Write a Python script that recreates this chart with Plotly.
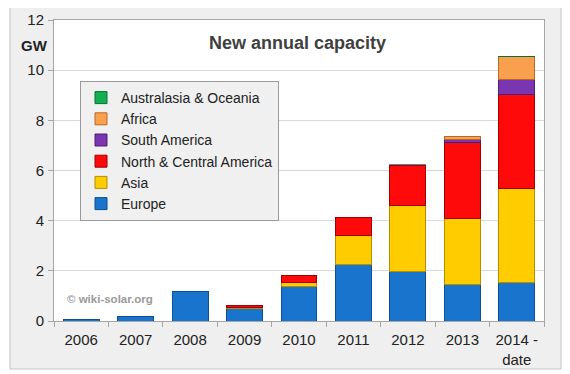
import plotly.graph_objects as go

years = ["2006", "2007", "2008", "2009", "2010", "2011", "2012", "2013", "2014 -<br>date"]
europe = [0.05, 0.18, 1.16, 0.50, 1.38, 2.26, 1.96, 1.45, 1.53]
asia = [None, None, None, 0.03, 0.15, 1.14, 2.64, 2.63, 3.77]
north_central_america = [None, None, None, 0.08, 0.29, 0.73, 1.60, 3.04, 3.74]
south_america = [None, None, None, None, None, None, 0.02, 0.13, 0.60]
africa = [None, None, None, None, None, None, 0.01, 0.10, 0.90]
australasia = [None, None, None, None, None, None, None, None, 0.02]

series = [
    ("Europe", europe, "#1874cd", "#0d4f8f"),
    ("Asia", asia, "#ffcc00", "#b38f00"),
    ("North & Central America", north_central_america, "#ff0a0a", "#a00000"),
    ("South America", south_america, "#7a35b0", "#4d1f70"),
    ("Africa", africa, "#f9a04f", "#b86a25"),
    ("Australasia & Oceania", australasia, "#12b050", "#0a7035"),
]

fig = go.Figure()
for name, vals, col, edge in series:
    fig.add_trace(go.Bar(x=years, y=vals, name=name, marker=dict(color=col, line=dict(color=edge, width=1))))

# page body has an 8px margin; design coordinates are window pixels
O = 8
W, H = 570 - O, 374 - O
L, R, T, B = 54 - O, 26, 20 - O, 53
pw, ph = W - L - R, H - T - B

def px(x):
    return (x - O - L) / pw

def py(y):
    return (H - B - (y - O)) / ph

fig.update_layout(
    width=W, height=H,
    margin=dict(l=L, r=R, t=T, b=B, autoexpand=False),
    barmode="stack", bargap=0.34,
    paper_bgcolor="white", plot_bgcolor="white",
    font=dict(family="Liberation Sans, Arial, sans-serif", color="#222222"),
    showlegend=True,
    legend=dict(
        x=px(80), y=py(81), xanchor="left", yanchor="top",
        bgcolor="#f0f0f0", bordercolor="#9a9a9a", borderwidth=1,
        traceorder="reversed", font=dict(size=14, color="#222222"),
        itemwidth=30, tracegroupgap=0,
    ),
    xaxis=dict(
        showline=True, linecolor="#a6a6a6", mirror=True,
        ticks="outside", tickson="boundaries", ticklen=5, tickcolor="#a6a6a6",
        tickfont=dict(size=15, color="#222222"), showgrid=False, ticklabelstandoff=5,
    ),
    yaxis=dict(
        range=[0, 12], dtick=2, showline=True, linecolor="#a6a6a6", mirror=True,
        ticks="outside", ticklen=5, tickcolor="#a6a6a6",
        gridcolor="#d9d9d9", gridwidth=1, ticklabelstandoff=1,
        tickfont=dict(size=15, color="#222222"), zeroline=False,
    ),
    shapes=[
        dict(type="rect", xref="paper", yref="paper", x0=px(10), x1=px(561), y0=py(369), y1=py(3),
             fillcolor="#efefef", line=dict(color="#c4c4c4", width=1), layer="below"),
        dict(type="rect", xref="paper", yref="paper", x0=0, x1=1, y0=0, y1=1,
             fillcolor="white", line=dict(width=0), layer="below"),
    ],
    annotations=[
        dict(text="<b>New annual capacity</b>", xref="paper", yref="paper", x=px(297), y=py(43),
             xanchor="center", yanchor="middle", showarrow=False, font=dict(size=18, color="#404040")),
        dict(text="<b>GW</b>", xref="paper", yref="paper", x=px(34), y=py(45),
             xanchor="center", yanchor="middle", showarrow=False, font=dict(size=15, color="#222222")),
        dict(text="<b>© wiki-solar.org</b>", xref="paper", yref="paper", x=px(110), y=py(299),
             xanchor="center", yanchor="middle", showarrow=False, font=dict(size=11.5, color="#9a9a9a")),
    ],
)

fig.write_html("out.html")
